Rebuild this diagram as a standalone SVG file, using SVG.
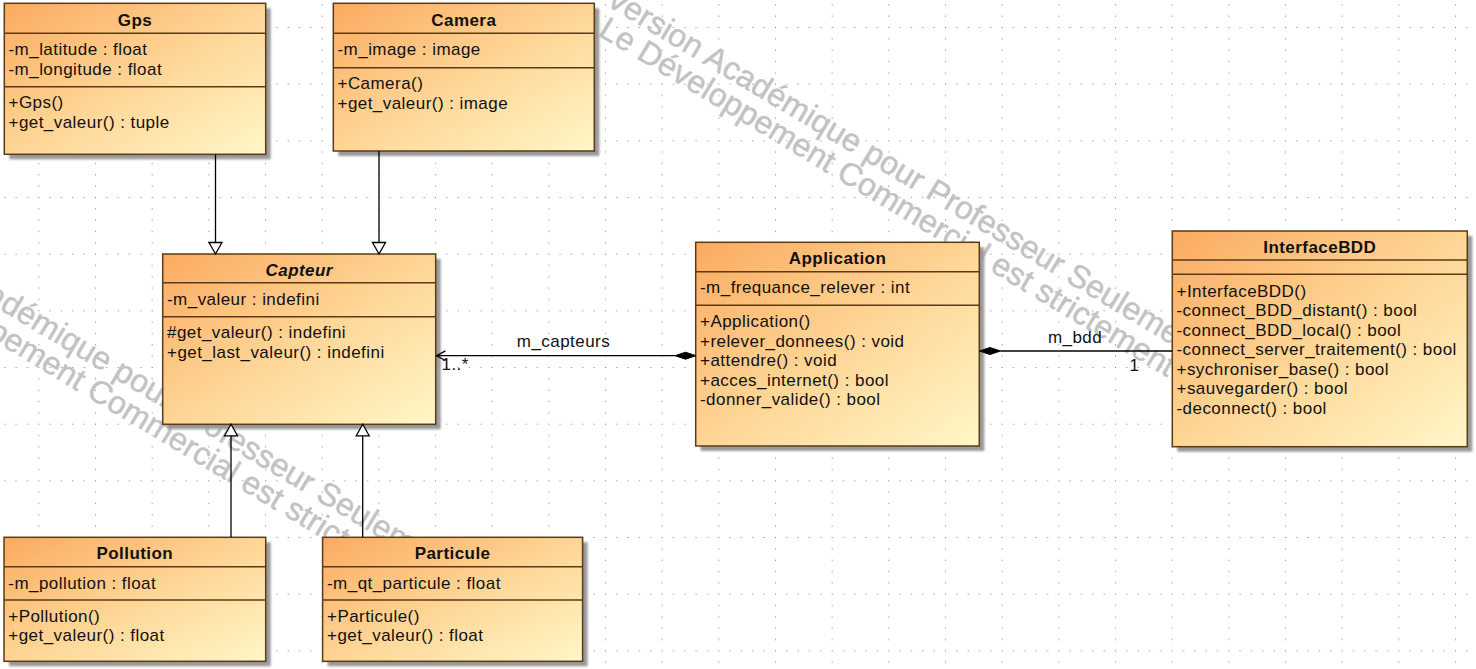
<svg xmlns="http://www.w3.org/2000/svg" xmlns:xlink="http://www.w3.org/1999/xlink" width="1476" height="669" viewBox="0 0 1476 669">
  <style>
    .box { fill: url(#classFill); stroke: #5b3b16; stroke-width: 1.5; }
    .shadow { fill: #9a9a9a; filter: url(#soft); }
    .sep { stroke: #5b3b16; stroke-width: 1.5; }
    .t { font-family: "Liberation Sans", Arial, sans-serif; font-size: 17px; letter-spacing: 0.45px; fill: #111; }
    .title { font-weight: bold; text-anchor: middle; }
    .abstract { font-style: italic; }
    .wm { font-family: "Liberation Sans", Arial, sans-serif; font-size: 32px; fill: #c2c2c2; stroke: #c2c2c2; stroke-width: 0.4; }
    .edge { stroke: #000; stroke-width: 1.3; fill: none; }
    .gen { fill: #fff; stroke: #000; stroke-width: 1.3; }
    .comp { fill: #000; stroke: #000; stroke-width: 1; }
    .lbl { font-family: "Liberation Sans", Arial, sans-serif; font-size: 17px; letter-spacing: 0.45px; fill: #111; }
  </style>
  <defs>
    <linearGradient id="classFill" x1="0" y1="0" x2="1" y2="1">
      <stop offset="0" stop-color="#fbaa60"/>
      <stop offset="0.5" stop-color="#fed595"/>
      <stop offset="1" stop-color="#fff7c8"/>
    </linearGradient>
    <filter id="soft" x="-5%" y="-5%" width="110%" height="110%">
      <feGaussianBlur stdDeviation="0.8"/>
    </filter>
    <pattern id="grid" patternUnits="userSpaceOnUse" x="38.333" y="27" width="56.667" height="56.667">
      <g fill="#7a7a7a">
        <rect x="0" y="0" width="1" height="1"/>
        <rect x="11.333" y="0" width="1" height="1"/>
        <rect x="22.667" y="0" width="1" height="1"/>
        <rect x="34" y="0" width="1" height="1"/>
        <rect x="45.333" y="0" width="1" height="1"/>
        <rect x="0" y="11.333" width="1" height="1"/>
        <rect x="0" y="22.667" width="1" height="1"/>
        <rect x="0" y="34" width="1" height="1"/>
        <rect x="0" y="45.333" width="1" height="1"/>
      </g>
    </pattern>
    <g id="stamp" class="wm">
      <text x="0" y="0">Version Académique pour Professeur Seulement</text>
      <text x="10" y="30">Le Développement Commercial est strictement</text>
    </g>
  </defs>

  <!-- canvas and drawing grid -->
  <rect x="0" y="0" width="1476" height="669" fill="#fff"/>
  <rect x="0" y="0" width="1476" height="669" fill="url(#grid)"/>

  <!-- licence stamp -->
  <g id="stamps">
    <use xlink:href="#stamp" transform="translate(604,4) rotate(31)"/>
    <use xlink:href="#stamp" transform="translate(-146,222) rotate(31)"/>
  </g>

  <!-- classes -->
  <g id="Gps">
    <rect class="shadow" x="9.3" y="8.3" width="261.4" height="151"/>
    <rect class="box" x="4.3" y="3.3" width="261.4" height="151"/>
    <line class="sep" x1="4.3" y1="33.3" x2="265.7" y2="33.3"/>
    <line class="sep" x1="4.3" y1="86.7" x2="265.7" y2="86.7"/>
    <text class="t title" x="135" y="25.5">Gps</text>
    <text class="t" x="8.5" y="55">-m_latitude : float</text>
    <text class="t" x="8.5" y="74.5">-m_longitude : float</text>
    <text class="t" x="8.5" y="108.3">+Gps()</text>
    <text class="t" x="8.5" y="127.8">+get_valeur() : tuple</text>
  </g>

  <g id="Camera">
    <rect class="shadow" x="338.3" y="8.3" width="261" height="147.7"/>
    <rect class="box" x="333.3" y="3.3" width="261" height="147.7"/>
    <line class="sep" x1="333.3" y1="33.3" x2="594.3" y2="33.3"/>
    <line class="sep" x1="333.3" y1="67.7" x2="594.3" y2="67.7"/>
    <text class="t title" x="463.8" y="25.5">Camera</text>
    <text class="t" x="337.5" y="55.3">-m_image : image</text>
    <text class="t" x="337.5" y="89.4">+Camera()</text>
    <text class="t" x="337.5" y="108.9">+get_valeur() : image</text>
  </g>

  <g id="Capteur">
    <rect class="shadow" x="167.7" y="259" width="273" height="170.3"/>
    <rect class="box" x="162.7" y="254" width="273" height="170.3"/>
    <line class="sep" x1="162.7" y1="282.7" x2="435.7" y2="282.7"/>
    <line class="sep" x1="162.7" y1="316.7" x2="435.7" y2="316.7"/>
    <text class="t title abstract" x="299.2" y="276.3">Capteur</text>
    <text class="t" x="167" y="304.5">-m_valeur : indefini</text>
    <text class="t" x="167" y="338.4">#get_valeur() : indefini</text>
    <text class="t" x="167" y="357.9">+get_last_valeur() : indefini</text>
  </g>

  <g id="Application">
    <rect class="shadow" x="700.7" y="247.3" width="283.6" height="203.7"/>
    <rect class="box" x="695.7" y="242.3" width="283.6" height="203.7"/>
    <line class="sep" x1="695.7" y1="271.7" x2="979.3" y2="271.7"/>
    <line class="sep" x1="695.7" y1="305.3" x2="979.3" y2="305.3"/>
    <text class="t title" x="837.5" y="264.3">Application</text>
    <text class="t" x="700" y="293.3">-m_frequance_relever : int</text>
    <text class="t" x="700" y="327">+Application()</text>
    <text class="t" x="700" y="346.5">+relever_donnees() : void</text>
    <text class="t" x="700" y="366">+attendre() : void</text>
    <text class="t" x="700" y="385.5">+acces_internet() : bool</text>
    <text class="t" x="700" y="405">-donner_valide() : bool</text>
  </g>

  <g id="InterfaceBDD">
    <rect class="shadow" x="1177.3" y="236" width="295" height="215.7"/>
    <rect class="box" x="1172.3" y="231" width="295" height="215.7"/>
    <line class="sep" x1="1172.3" y1="260" x2="1467.3" y2="260"/>
    <line class="sep" x1="1172.3" y1="274.3" x2="1467.3" y2="274.3"/>
    <text class="t title" x="1319.8" y="253">InterfaceBDD</text>
    <text class="t" x="1176.5" y="296.5">+InterfaceBDD()</text>
    <text class="t" x="1176.5" y="316">-connect_BDD_distant() : bool</text>
    <text class="t" x="1176.5" y="335.5">-connect_BDD_local() : bool</text>
    <text class="t" x="1176.5" y="355">-connect_server_traitement() : bool</text>
    <text class="t" x="1176.5" y="374.5">+sychroniser_base() : bool</text>
    <text class="t" x="1176.5" y="394">+sauvegarder() : bool</text>
    <text class="t" x="1176.5" y="413.5">-deconnect() : bool</text>
  </g>

  <g id="Pollution">
    <rect class="shadow" x="9" y="542.3" width="261.7" height="124"/>
    <rect class="box" x="4" y="537.3" width="261.7" height="124"/>
    <line class="sep" x1="4" y1="566.7" x2="265.7" y2="566.7"/>
    <line class="sep" x1="4" y1="600" x2="265.7" y2="600"/>
    <text class="t title" x="134.8" y="559.3">Pollution</text>
    <text class="t" x="8.3" y="588.5">-m_pollution : float</text>
    <text class="t" x="8.3" y="621.7">+Pollution()</text>
    <text class="t" x="8.3" y="641.2">+get_valeur() : float</text>
  </g>

  <g id="Particule">
    <rect class="shadow" x="327.6" y="542.3" width="260" height="124"/>
    <rect class="box" x="322.6" y="537.3" width="260" height="124"/>
    <line class="sep" x1="322.6" y1="566.7" x2="582.6" y2="566.7"/>
    <line class="sep" x1="322.6" y1="600" x2="582.6" y2="600"/>
    <text class="t title" x="452.6" y="559.3">Particule</text>
    <text class="t" x="327" y="588.5">-m_qt_particule : float</text>
    <text class="t" x="327" y="621.7">+Particule()</text>
    <text class="t" x="327" y="641.2">+get_valeur() : float</text>
  </g>

  <!-- relationships -->
  <g id="connectors">
    <!-- generalisations toward Capteur -->
    <line class="edge" x1="215.5" y1="154.3" x2="215.5" y2="242.5"/>
    <polygon class="gen" points="215.5,254 209,242.5 222,242.5"/>
    <line class="edge" x1="379" y1="151" x2="379" y2="242.5"/>
    <polygon class="gen" points="379,254 372.5,242.5 385.5,242.5"/>
    <line class="edge" x1="231" y1="537.3" x2="231" y2="435.8"/>
    <polygon class="gen" points="231,424.3 224.5,435.8 237.5,435.8"/>
    <line class="edge" x1="362.7" y1="537.3" x2="362.7" y2="435.8"/>
    <polygon class="gen" points="362.7,424.3 356.2,435.8 369.2,435.8"/>

    <!-- Application composes Capteur -->
    <line class="edge" x1="436.5" y1="355.7" x2="675" y2="355.7"/>
    <polyline class="edge" points="445.5,350.9 436.5,355.7 445.5,360.5"/>
    <polygon class="comp" points="696,355.7 685.5,352.2 675,355.7 685.5,359.2"/>
    <text class="lbl" x="563.5" y="347" text-anchor="middle">m_capteurs</text>
    <text class="lbl" x="441.5" y="369.5">1..*</text>

    <!-- Application composes InterfaceBDD -->
    <line class="edge" x1="1000.5" y1="351" x2="1172.3" y2="351"/>
    <polygon class="comp" points="979.5,351 990,347.5 1000.5,351 990,354.5"/>
    <text class="lbl" x="1075" y="343" text-anchor="middle">m_bdd</text>
    <text class="lbl" x="1129.5" y="370.7">1</text>
  </g>
</svg>
